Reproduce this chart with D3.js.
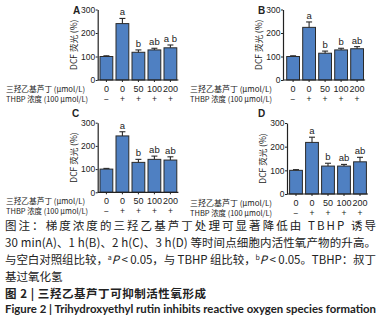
<!DOCTYPE html>
<html>
<head>
<meta charset="utf-8">
<script src="https://cdn.jsdelivr.net/npm/d3@7"></script>
<style>
  body { margin: 0; background: #fff; }
  svg text { fill: #222; }
  .tick-label { font-family: "Liberation Sans", Arial, sans-serif; font-size: 9px; }
  .cn { font-family: "Noto Sans CJK SC", sans-serif; }
</style>
</head>
<body>
<svg width="381" height="318"></svg>
<script>
// values
const doses = ['0', '0', '50', '100', '200'];
const tbhp = ['−', '+', '+', '+', '+'];
const yTicks = [0, 100, 200, 300];

const meanA = [100, 240, 118, 128, 137];
const errA  = [3, 22, 10, 7, 12];
const sigA  = ['', 'a', 'b', 'ab', 'a b'];

const meanB = [100, 224, 114, 128, 133];
const errB  = [3, 23, 9, 7, 9];
const sigB  = ['', 'a', 'b', 'b', 'ab'];

const meanC = [100, 243, 129, 142, 139];
const errC  = [3, 18, 13, 14, 14];
const sigC  = ['', 'a', 'b', 'ab', 'ab'];

const meanD = [100, 218, 118, 118, 136];
const errD  = [3, 22, 12, 7, 19];
const sigD  = ['', 'a', 'b', 'ab', 'ab'];

const svg = d3.select('svg');

// panel layout: axis x, first band start, y of 0 and y of 300, label column x
const panels = [
  { id: 'A', mean: meanA, err: errA, sig: sigA, axisX: 97.7, x0: 98.4, y0: 80, y1: 9.5, labX: 6, letter: [73, 14] },
  { id: 'B', mean: meanB, err: errB, sig: sigB, axisX: 283, x0: 285.1, y0: 80, y1: 9.5, labX: 190, letter: [258, 14] },
  { id: 'C', mean: meanC, err: errC, sig: sigC, axisX: 97.7, x0: 98.4, y0: 192.3, y1: 122.7, labX: 6, letter: [72, 117] },
  { id: 'D', mean: meanD, err: errD, sig: sigD, axisX: 287, x0: 288, y0: 194, y1: 123, labX: 190, letter: [258, 117] }
];

panels.forEach(function (p) {
  const g = svg.append('g').attr('class', 'panel ' + p.id);

  const x = d3.scaleBand()
    .domain(d3.range(doses.length))
    .range([p.x0, p.x0 + 80])
    .paddingInner(0.2)
    .paddingOuter(0.1);
  const y = d3.scaleLinear().domain([0, 300]).range([p.y0, p.y1]);

  // bars
  g.selectAll('.bar')
    .data(p.mean)
    .enter()
    .append('rect')
    .attr('class', 'bar')
    .attr('x', (d, i) => x(i))
    .attr('y', d => y(d))
    .attr('width', x.bandwidth())
    .attr('height', d => p.y0 - y(d))
    .attr('fill', '#4f80c2')
    .attr('stroke', '#2a2a2a')
    .attr('stroke-width', 1);

  // upper error bars
  const eb = g.selectAll('.err')
    .data(p.mean)
    .enter()
    .append('g')
    .attr('class', 'err')
    .attr('stroke', '#2a2a2a')
    .attr('stroke-width', 1.1);
  eb.append('line')
    .attr('x1', (d, i) => x(i) + x.bandwidth() / 2)
    .attr('x2', (d, i) => x(i) + x.bandwidth() / 2)
    .attr('y1', d => y(d))
    .attr('y2', (d, i) => y(d + p.err[i]));
  eb.append('line')
    .attr('x1', (d, i) => x(i) + x.bandwidth() / 2 - 3)
    .attr('x2', (d, i) => x(i) + x.bandwidth() / 2 + 3)
    .attr('y1', (d, i) => y(d + p.err[i]))
    .attr('y2', (d, i) => y(d + p.err[i]));

  // significance letters
  g.selectAll('.sig')
    .data(p.sig)
    .enter()
    .append('text')
    .attr('class', 'tick-label')
    .attr('x', (d, i) => x(i) + x.bandwidth() / 2)
    .attr('y', (d, i) => y(p.mean[i] + p.err[i]) - 3)
    .attr('text-anchor', 'middle')
    .style('font-size', '9.5px')
    .text(d => d);

  // y axis
  const yAxis = g.append('g')
    .attr('transform', `translate(${p.axisX},0)`)
    .call(d3.axisLeft(y).tickValues(yTicks).tickSize(2).tickSizeOuter(0));
  yAxis.select('.domain').attr('stroke', '#222').attr('stroke-width', 1.2);
  yAxis.selectAll('.tick line').attr('stroke', '#222');
  yAxis.selectAll('.tick text')
    .attr('class', 'tick-label')
    .attr('x', -2.5)
    .style('font-size', '8.5px')
    .attr('fill', '#222');

  // x axis line with small ticks under bars
  const xAxis = g.append('g')
    .attr('transform', `translate(0,${p.y0})`)
    .call(d3.axisBottom(x).tickSize(2).tickSizeOuter(0).tickFormat(''));
  xAxis.select('.domain')
    .attr('d', `M${p.axisX},0H${p.x0 + 80}`)
    .attr('stroke', '#222').attr('stroke-width', 1.2);
  xAxis.selectAll('.tick line').attr('stroke', '#222');

  // dose and TBHP rows
  g.selectAll('.dose')
    .data(doses)
    .enter()
    .append('text')
    .attr('class', 'tick-label')
    .attr('x', (d, i) => x(i) + x.bandwidth() / 2)
    .attr('y', p.y0 + 12)
    .attr('text-anchor', 'middle')
    .text(d => d);
  g.selectAll('.tbhp')
    .data(tbhp)
    .enter()
    .append('text')
    .attr('class', 'tick-label')
    .attr('x', (d, i) => x(i) + x.bandwidth() / 2)
    .attr('y', p.y0 + 22)
    .attr('text-anchor', 'middle')
    .style('font-size', '8.5px')
    .text(d => d);

  g.append('text')
    .attr('class', 'cn')
    .attr('x', p.labX)
    .attr('y', p.y0 + 12)
    .attr('textLength', p.labX < 100 ? 79 : 82)
    .attr('lengthAdjust', 'spacingAndGlyphs')
    .style('font-size', '7.8px')
    .text('三羟乙基芦丁 (μmol/L)');
  g.append('text')
    .attr('class', 'cn')
    .attr('x', p.labX)
    .attr('y', p.y0 + 22)
    .attr('textLength', 82)
    .attr('lengthAdjust', 'spacingAndGlyphs')
    .style('font-size', '7.8px')
    .text('THBP 浓度 (100 μmol/L)');

  // y label
  g.append('text')
    .attr('class', 'cn')
    .attr('transform', `translate(${p.axisX - 21},${(p.y0 + p.y1) / 2}) rotate(-90)`)
    .attr('text-anchor', 'middle')
    .style('font-size', '8.5px')
    .text('DCF 荧光 (%)');

  // panel letter
  g.append('text')
    .attr('x', p.letter[0])
    .attr('y', p.letter[1])
    .style('font-family', '"Liberation Sans", Arial, sans-serif')
    .style('font-size', '10px')
    .style('font-weight', 'bold')
    .text(p.id);
});

// caption
const cap = svg.append('g').attr('class', 'cn').style('font-size', '11.5px');
cap.append('text').attr('x', 5).attr('y', 230)
  .attr('textLength', 371).attr('lengthAdjust', 'spacing')
  .text('图注：梯度浓度的三羟乙基芦丁处理可显著降低由 TBHP 诱导');
cap.append('text').attr('x', 5).attr('y', 247)
  .attr('textLength', 371).attr('lengthAdjust', 'spacing')
  .text('30 min(A)、1 h(B)、2 h(C)、3 h(D) 等时间点细胞内活性氧产物的升高。');
const l3 = cap.append('text').attr('x', 5).attr('y', 264)
  .attr('textLength', 371).attr('lengthAdjust', 'spacing');
l3.append('tspan').text('与空白对照组比较，');
l3.append('tspan').attr('dy', -4).style('font-size', '7px').text('a');
l3.append('tspan').attr('dy', 4).style('font-style', 'italic').text('P');
l3.append('tspan').text(' < 0.05，与 TBHP 组比较，');
l3.append('tspan').attr('dy', -4).style('font-size', '7px').text('b');
l3.append('tspan').attr('dy', 4).style('font-style', 'italic').text('P');
l3.append('tspan').text(' < 0.05。TBHP：叔丁');
cap.append('text').attr('x', 5).attr('y', 281).text('基过氧化氢');

svg.append('text').attr('class', 'cn')
  .attr('x', 5).attr('y', 298)
  .attr('textLength', 201).attr('lengthAdjust', 'spacing')
  .style('font-size', '11.5px').style('font-weight', 'bold')
  .text('图 2 | 三羟乙基芦丁可抑制活性氧形成');
svg.append('text')
  .attr('x', 5).attr('y', 312.5)
  .attr('textLength', 371).attr('lengthAdjust', 'spacingAndGlyphs')
  .style('font-family', 'Lato, "Open Sans", sans-serif')
  .style('font-size', '10.5px').style('font-weight', 'bold')
  .text('Figure 2  |  Trihydroxyethyl rutin inhibits reactive oxygen species formation');
</script>
</body>
</html>
